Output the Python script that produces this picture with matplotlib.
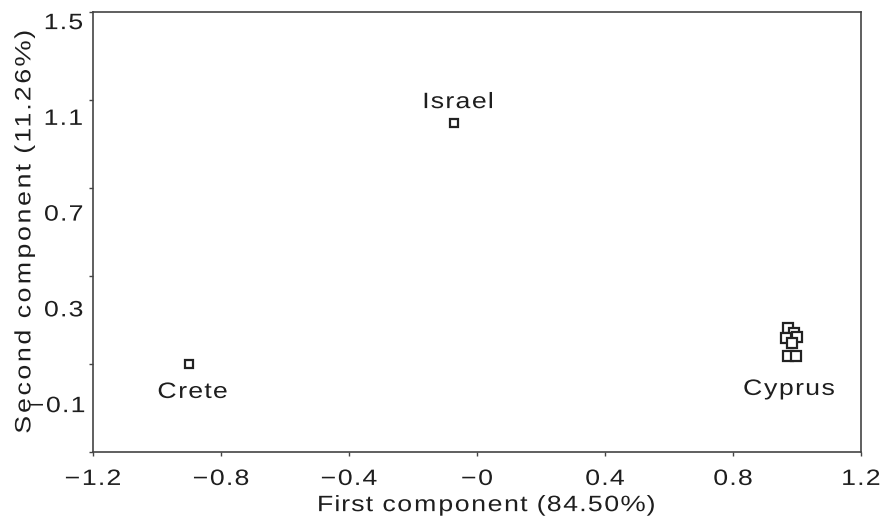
import matplotlib
matplotlib.use("Agg")
import matplotlib.pyplot as plt
import numpy as np
from matplotlib.patheffects import AbstractPathEffect
from matplotlib.path import Path

plt.rcParams['font.family'] = ['Liberation Sans', 'DejaVu Sans']

# Data (PCA scores)
israel_x = [-0.072]
israel_y = [1.074]
crete_x = [-0.90]
crete_y = [0.068]
cyprus_x = [0.972, 0.991, 0.966, 1.000, 0.984, 0.972, 0.997]
cyprus_y = [0.218, 0.197, 0.176, 0.180, 0.155, 0.101, 0.101]

group_names = ["Israel", "Crete", "Cyprus"]

x_ticks = [-1.2, -0.8, -0.4, 0.0, 0.4, 0.8, 1.2]
x_tick_labels = ["\u22121.2", "\u22120.8", "\u22120.4", "\u22120", "0.4", "0.8", "1.2"]
y_ticks = [1.5, 1.1, 0.7, 0.3, -0.1]
y_tick_labels = ["1.5", "1.1", "0.7", "0.3", "\u22120.1"]
Y_MIN, Y_MAX = -0.3, 1.538


class Tracking(AbstractPathEffect):
    """Draw text with wider letter spacing (glyphs moved apart)."""

    def __init__(self, spread=1.4, glyph=1.1):
        super().__init__()
        self.spread = spread
        self.glyph = glyph

    def draw_path(self, renderer, gc, tpath, affine, rgbFace=None):
        codes = tpath.codes
        verts = np.array(tpath.vertices, dtype=float)
        if codes is None or len(verts) == 0:
            renderer.draw_path(gc, tpath, affine, rgbFace)
            return
        codes = np.asarray(codes)
        starts = np.flatnonzero(codes == Path.MOVETO)
        if len(starts) == 0:
            renderer.draw_path(gc, tpath, affine, rgbFace)
            return
        ends = list(starts[1:]) + [len(codes)]
        valid = codes != Path.CLOSEPOLY
        ext = []
        for a, b in zip(starts, ends):
            xs = verts[a:b, 0][valid[a:b]]
            ext.append((xs.min(), xs.max()))
        allx = verts[valid, 0]
        x0 = 0.5 * (allx.min() + allx.max())
        order = sorted(range(len(starts)), key=lambda i: (ext[i][0], -ext[i][1]))
        groups = []
        for i in order:
            lo, hi = ext[i]
            if groups and lo >= groups[-1][0] - 2 and hi <= groups[-1][1] + 2:
                groups[-1][2].append(i)
            else:
                groups.append([lo, hi, [i]])
        new = verts.copy()
        for lo, hi, members in groups:
            c = 0.5 * (lo + hi)
            nc = x0 + self.spread * (c - x0)
            for i in members:
                a, b = starts[i], ends[i]
                new[a:b, 0] = nc + self.glyph * (verts[a:b, 0] - c)
        renderer.draw_path(gc, Path(new, codes), affine, rgbFace)


track = [Tracking(1.33, 1.2)]
track_y = [Tracking(1.42, 1.2)]
TXT = '#1e1e1e'
fs = 16

fig = plt.figure(figsize=(8.8, 5.2), dpi=100)
ax = fig.add_axes([93/880, 68/520, (861-93)/880, (452-12)/520])

mk = dict(marker='s', linestyle='none', markerfacecolor='white',
          markeredgecolor='#222222', markeredgewidth=1.6)
ax.plot(israel_x, israel_y, markersize=5.6, **mk)
ax.plot(crete_x, crete_y, markersize=5.6, **mk)
ax.plot(cyprus_x, cyprus_y, markersize=6.6, **mk)

ax.set_xlim(-1.2, 1.2)
ax.set_ylim(Y_MIN, Y_MAX)

ax.set_xticks(x_ticks)
ax.set_xticklabels(x_tick_labels, fontsize=fs, color=TXT)
ax.set_yticks(y_ticks)
ax.set_yticklabels(y_tick_labels, fontsize=fs, color=TXT)
ax.tick_params(axis='y', which='major', length=0, pad=10)
ax.set_yticks(np.linspace(Y_MIN, Y_MAX, 6), minor=True)
ax.tick_params(axis='y', which='minor', length=3, width=1, color='#444444', direction='out')
ax.tick_params(axis='x', which='major', length=3, width=1, color='#444444', pad=9.2)

for s in ax.spines.values():
    s.set_color('#444444')
    s.set_linewidth(1.2)

ax.set_xlabel("First component (84.50%)", fontsize=fs, color=TXT)
ax.xaxis.set_label_coords(0.512, -0.098)
ax.set_ylabel("Second component (11.26%)", fontsize=fs, color=TXT)
ax.yaxis.set_label_coords(-0.075, 0.50)

tk = dict(textcoords='offset points', ha='center', va='baseline', fontsize=fs, color=TXT)
a1 = ax.annotate(group_names[0], (israel_x[0], israel_y[0]), xytext=(3, 10.8), **tk)
a2 = ax.annotate(group_names[1], (crete_x[0], crete_y[0]), xytext=(2.5, -24.5), **tk)
a3 = ax.annotate(group_names[2], (np.mean(cyprus_x), min(cyprus_y)), xytext=(-2, -28), **tk)

for t in (ax.get_xticklabels() + ax.get_yticklabels()
          + [ax.xaxis.label, a1, a2, a3]):
    t.set_path_effects(track)
ax.yaxis.label.set_path_effects(track_y)

fig.savefig("out.png", dpi=100)
